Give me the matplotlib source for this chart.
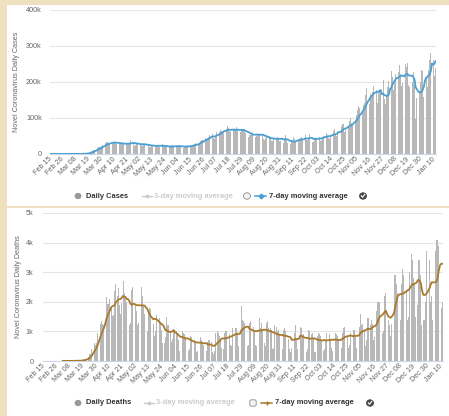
import numpy as np
import pandas as pd
import matplotlib
matplotlib.use("Agg")
import matplotlib.pyplot as plt
from matplotlib.patches import Rectangle, Circle, FancyBboxPatch
from matplotlib.lines import Line2D

plt.rcParams['font.family'] = ['Liberation Sans', 'DejaVu Sans']

# ---------------- data (USA, Feb 15 2020 - Jan 11 2021) ----------------
start_date = '2020-02-15'
end_date = '2021-01-11'

# daily new cases, thousands
cases_feb = [0] * 15
cases_mar = [0.02, 0.02, 0.03, 0.03, 0.07, 0.08, 0.1, 0.12, 0.2, 0.3, 0.4, 0.5, 0.6, 0.7, 0.9, 1.3,
             1.8, 2.8, 4.6, 5.6, 7.0, 8.9, 11.2, 11.1, 13.9, 17.8, 19.0, 19.8, 19.4, 21.0, 25.3]
cases_apr = [26.6, 30.1, 32.0, 34.0, 25.5, 29.3, 32.5, 33.0, 34.4, 34.0, 29.9, 28.0, 25.6, 27.0, 30.3,
             31.5, 32.0, 28.2, 26.3, 26.6, 26.8, 28.9, 31.8, 38.7, 33.9, 26.5, 23.5, 24.3, 27.3, 30.0]
cases_may = [33.0, 29.0, 25.5, 22.3, 23.9, 25.1, 29.0, 28.0, 25.6, 20.0, 18.6, 21.5, 21.3, 27.2, 25.1,
             24.9, 18.9, 22.3, 20.3, 21.6, 27.0, 23.3, 23.2, 20.1, 18.6, 17.1, 19.2, 22.4, 24.8, 24.0, 21.0]
cases_jun = [20.1, 21.9, 20.4, 21.5, 24.8, 23.3, 17.9, 17.3, 18.6, 20.9, 22.9, 25.3, 25.8, 19.8, 19.6,
             23.6, 26.3, 28.4, 31.6, 32.0, 26.1, 31.6, 36.0, 38.4, 39.1, 45.3, 43.6, 41.6, 41.4, 47.5]
cases_jul = [52.0, 56.6, 54.6, 45.8, 42.5, 46.5, 62.3, 62.9, 61.7, 67.8, 64.7, 59.7, 61.5, 66.6, 68.6,
             77.3, 72.0, 63.8, 62.0, 62.5, 67.0, 70.3, 70.4, 74.9, 68.1, 56.1, 59.8, 67.9, 68.9, 69.1, 68.5]
cases_aug = [58.4, 47.5, 47.5, 54.1, 54.1, 58.1, 60.1, 54.2, 47.4, 49.0, 54.5, 54.9, 52.0, 64.6, 53.1,
             42.4, 39.1, 44.7, 47.4, 45.3, 48.7, 45.1, 35.9, 37.2, 40.4, 44.6, 45.3, 48.0, 43.7, 35.4, 37.3]
cases_sep = [43.6, 31.1, 44.7, 52.3, 42.5, 31.2, 24.5, 27.4, 35.2, 35.6, 47.3, 40.4, 35.5, 36.6, 38.6,
             39.9, 44.3, 47.3, 42.8, 35.7, 52.9, 39.6, 39.5, 45.7, 55.4, 46.0, 34.5, 32.0, 42.9, 40.7]
cases_oct = [44.8, 54.2, 47.7, 37.1, 40.2, 43.6, 50.6, 56.2, 58.1, 51.6, 45.6, 41.3, 50.1, 59.5, 64.7,
             69.1, 55.5, 48.7, 64.7, 60.3, 62.8, 77.6, 83.7, 83.8, 60.1, 67.0, 75.9, 79.0, 91.5, 99.3, 86.3]
cases_nov = [81.2, 94.0, 92.6, 107.9, 121.9, 132.5, 126.7, 105.9, 120.3, 136.3, 142.8, 163.2, 184.5,
             166.2, 138.9, 165.3, 161.6, 172.8, 187.8, 198.5, 177.6, 142.7, 174.5, 175.9, 181.5, 112.9,
             205.0, 152.0, 138.9, 161.0]
cases_dec = [186.0, 202.6, 217.7, 231.2, 214.0, 177.0, 196.6, 221.4, 220.6, 227.3, 247.4, 221.0, 189.0,
             198.0, 204.0, 250.0, 241.0, 253.0, 193.0, 187.0, 197.0, 200.0, 228.0, 193.0, 98.0, 155.0,
             151.0, 175.0, 201.0, 232.0, 231.0]
cases_jan = [158.0, 277.0, 211.0, 186.0, 232.0, 261.0, 280.0, 310.0, 262.0, 217.0, 240.0]

# daily new deaths, thousands (reporting begins Mar 2)
deaths_start = '2020-03-02'
deaths_mar = [0.005, 0.003, 0.002, 0.001, 0.004, 0.003, 0.003, 0.004, 0.005, 0.008, 0.007, 0.01, 0.01,
              0.01, 0.02, 0.025, 0.03, 0.05, 0.06, 0.07, 0.11, 0.14, 0.23, 0.25, 0.4, 0.5, 0.6, 0.55,
              0.6, 0.95]
deaths_apr = [1.14, 1.24, 1.36, 1.25, 1.21, 1.45, 2.17, 1.94, 1.91, 2.08, 1.85, 1.53, 1.57, 2.35, 2.60,
              2.20, 2.45, 1.90, 1.60, 1.95, 2.70, 2.30, 2.20, 2.00, 1.90, 1.20, 1.30, 2.40, 2.50, 2.20]
deaths_may = [1.90, 1.70, 1.20, 1.30, 2.35, 2.50, 2.20, 1.90, 1.60, 0.80, 1.00, 1.70, 1.80, 1.75, 1.60,
              1.25, 0.85, 1.00, 1.55, 1.55, 1.45, 1.30, 1.05, 0.60, 0.60, 0.80, 1.50, 1.20, 1.20, 0.95, 0.65]
deaths_jun = [0.75, 1.05, 1.05, 1.00, 0.95, 0.70, 0.35, 0.60, 1.00, 0.95, 0.90, 0.80, 0.75, 0.35, 0.40,
              0.85, 0.80, 0.75, 0.70, 0.60, 0.30, 0.35, 0.85, 0.80, 0.70, 0.65, 0.55, 0.30, 0.35, 0.65]
deaths_jul = [0.70, 0.70, 0.65, 0.30, 0.25, 0.35, 0.95, 1.00, 0.95, 0.85, 0.75, 0.45, 0.40, 0.95, 1.00,
              1.00, 0.95, 0.90, 0.55, 0.50, 1.10, 1.15, 1.10, 1.10, 0.95, 0.50, 0.55, 1.85, 1.40, 1.35, 1.30]
deaths_aug = [1.15, 0.50, 0.55, 1.30, 1.35, 1.20, 1.15, 1.00, 0.55, 0.50, 1.40, 1.45, 1.10, 1.30, 1.05,
              0.60, 0.50, 1.30, 1.35, 1.10, 1.10, 1.05, 0.40, 0.45, 1.20, 1.15, 1.00, 1.05, 0.90, 0.45, 0.40]
deaths_sep = [1.05, 1.10, 1.00, 1.00, 0.75, 0.40, 0.30, 0.45, 1.15, 0.95, 1.20, 0.75, 0.40, 0.40, 1.15,
              1.10, 0.85, 0.90, 0.75, 0.30, 0.40, 1.05, 1.00, 0.90, 0.95, 0.75, 0.30, 0.30, 0.85, 0.95]
deaths_oct = [0.90, 0.85, 0.70, 0.35, 0.40, 0.70, 0.95, 0.95, 0.90, 0.70, 0.45, 0.35, 0.75, 0.95, 0.90,
              0.85, 0.75, 0.40, 0.45, 0.95, 1.10, 1.15, 0.95, 0.85, 0.45, 0.55, 0.95, 1.05, 1.05, 1.05, 0.85]
deaths_nov = [0.45, 0.55, 1.15, 1.60, 1.20, 1.25, 1.00, 0.50, 0.70, 1.45, 1.45, 1.20, 1.40, 1.25, 0.70,
              0.80, 1.70, 2.00, 2.00, 2.00, 1.45, 0.95, 1.00, 2.20, 2.30, 1.30, 1.40, 1.20, 0.85, 1.25]
deaths_dec = [2.60, 2.90, 2.90, 2.60, 2.30, 1.10, 1.40, 2.60, 3.10, 2.90, 2.90, 2.40, 1.40, 1.50, 3.00,
              3.60, 3.40, 2.80, 2.60, 1.50, 1.90, 3.40, 3.40, 2.90, 1.20, 1.40, 1.40, 2.00, 3.70, 3.90, 3.40]
deaths_jan = [2.00, 2.20, 1.40, 2.00, 3.70, 4.10, 4.10, 3.90, 3.40, 1.80, 2.00]

cases_ticks = [0, 100, 200, 300, 400]
cases_tick_labels = ['0', '100k', '200k', '300k', '400k']
deaths_ticks = [0, 1, 2, 3, 4, 5]
deaths_tick_labels = ['0', '1k', '2k', '3k', '4k', '5k']

# ---------------- assemble series ----------------
dates = pd.date_range(start_date, end_date, freq='D')
cases = pd.Series(cases_feb + cases_mar + cases_apr + cases_may + cases_jun + cases_jul + cases_aug
                  + cases_sep + cases_oct + cases_nov + cases_dec + cases_jan, index=dates)
deaths = pd.Series(deaths_mar + deaths_apr + deaths_may + deaths_jun + deaths_jul + deaths_aug
                   + deaths_sep + deaths_oct + deaths_nov + deaths_dec + deaths_jan,
                   index=pd.date_range(deaths_start, end_date, freq='D')).reindex(dates)
cases_ma = cases.rolling(7, min_periods=1).mean()
deaths_ma = deaths.rolling(7, min_periods=1).mean()

x = np.arange(len(dates))
tick_pos = x[::11]
tick_labels = [d.strftime('%b %d') for d in dates[::11]]

# ---------------- figure ----------------
W, H = 449, 416
fig = plt.figure(figsize=(W / 100, H / 100), dpi=100)
fig.patch.set_facecolor('#efe1c0')


def fx(px):
    return px / W


def fy(py):
    return 1 - py / H


def card(x0, y0, x1, y1):
    fig.add_artist(Rectangle((fx(x0), fy(y1)), fx(x1) - fx(x0), fy(y0) - fy(y1),
                             transform=fig.transFigure, facecolor='white',
                             edgecolor='none', zorder=-5))


card(7, 5, 449, 206)
card(7, 208, 449, 416)

TXT = '#666666'
FS = 5.2


def style_axis(ax, yticks, ylabels, ylim, ypad):
    ax.set_facecolor('white')
    ax.set_xlim(-0.5, len(dates) - 0.5)
    ax.set_ylim(*ylim)
    for s in ['top', 'right', 'left']:
        ax.spines[s].set_visible(False)
    ax.spines['bottom'].set_color('#ccd6eb')
    ax.spines['bottom'].set_linewidth(0.8)
    ax.set_yticks(yticks)
    ax.set_yticklabels(ylabels, color=TXT, fontsize=FS)
    ax.yaxis.grid(True, color='#e6e6e6', linewidth=0.8)
    ax.set_axisbelow(True)
    ax.tick_params(axis='y', length=0, pad=ypad)
    ax.set_xticks(tick_pos)
    ax.set_xticklabels(tick_labels, color=TXT, fontsize=FS)
    ax.tick_params(axis='x', length=0, pad=3)
    for lab in ax.get_xticklabels():
        lab.set_rotation(45)
        lab.set_ha('right')
        lab.set_va('center')
        lab.set_rotation_mode('anchor')


# top panel: cases
ax1 = fig.add_axes([fx(50), fy(154), fx(436) - fx(50), fy(10) - fy(154)])
style_axis(ax1, cases_ticks, cases_tick_labels, (0, 400), 6)
ax1.bar(x, cases.values, width=0.72, color='#b8b8b8', linewidth=0, zorder=2)
ax1.plot(x, cases_ma.values, color='#4a9fd4', linewidth=1.3, zorder=3)
fig.text(fx(17), fy(82), 'Novel Coronavirus Daily Cases', rotation=90, color=TXT,
         fontsize=FS, ha='center', va='center')

# bottom panel: deaths
ax2 = fig.add_axes([fx(43), fy(361), fx(443) - fx(43), fy(213) - fy(361)])
style_axis(ax2, deaths_ticks, deaths_tick_labels, (0, 5), 7)
ax2.bar(x, deaths.fillna(0).values, width=0.72, color='#b8b8b8', linewidth=0, zorder=2)
ax2.plot(x, deaths_ma.values, color='#a97a2d', linewidth=1.3, zorder=3)
fig.text(fx(19), fy(287), 'Novel Coronavirus Daily Deaths', rotation=90, color=TXT,
         fontsize=FS, ha='center', va='center')


# ---------------- legends ----------------
def legend(y, name, x_dot, x_name, x_3d, x_box, x_7d, x_check, ma_color, ma_marker, ms, box_round):
    LFS = 5.4
    fig.add_artist(Circle((fx(x_dot), fy(y)), radius=3.4 / W, transform=fig.transFigure,
                          facecolor='#999999', edgecolor='none'))
    fig.text(fx(x_name), fy(y), name, fontsize=LFS, fontweight='bold', color='#333333',
             ha='left', va='center')
    fig.add_artist(Line2D([fx(x_3d), fx(x_3d + 10)], [fy(y), fy(y)], transform=fig.transFigure,
                          color='#cccccc', linewidth=1.0))
    fig.add_artist(Line2D([fx(x_3d + 5)], [fy(y)], transform=fig.transFigure, marker='o',
                          markersize=2.8, color='#cccccc', markeredgewidth=0))
    fig.text(fx(x_3d + 12), fy(y), '3-day moving average', fontsize=LFS, fontweight='bold',
             color='#cccccc', ha='left', va='center')
    if box_round:
        fig.add_artist(Circle((fx(x_box), fy(y)), radius=3.5 / W, transform=fig.transFigure,
                              facecolor='#f3f3f3', edgecolor='#8c8c8c', linewidth=0.6))
    else:
        fig.add_artist(FancyBboxPatch((fx(x_box - 3.2), fy(y + 3.2)), 6.4 / W, 6.4 / H,
                                      boxstyle='round,pad=0,rounding_size=0.004',
                                      transform=fig.transFigure, facecolor='#f3f3f3',
                                      edgecolor='#8c8c8c', linewidth=0.6))
    fig.add_artist(Line2D([fx(x_7d), fx(x_7d + 11)], [fy(y), fy(y)], transform=fig.transFigure,
                          color=ma_color, linewidth=1.1))
    fig.add_artist(Line2D([fx(x_7d + 5.5)], [fy(y)], transform=fig.transFigure, marker=ma_marker,
                          markersize=ms, color=ma_color, markeredgewidth=1.0))
    fig.text(fx(x_7d + 14), fy(y), '7-day moving average', fontsize=LFS, fontweight='bold',
             color='#333333', ha='left', va='center')
    fig.add_artist(Circle((fx(x_check), fy(y)), radius=3.5 / W, transform=fig.transFigure,
                          facecolor='#4a4a4a', edgecolor='#333333', linewidth=0.5))
    fig.add_artist(Line2D([fx(x_check - 1.7), fx(x_check - 0.4), fx(x_check + 1.8)],
                          [fy(y - 0.2), fy(y + 1.3), fy(y - 1.7)], transform=fig.transFigure,
                          color='white', linewidth=0.8))


legend(196, 'Daily Cases', 78, 86, 142, 247, 255, 363, '#4a9fd4', 'D', 2.4, True)
legend(403, 'Daily Deaths', 78, 86, 144, 253, 261, 370, '#a97a2d', '+', 3.4, False)

fig.savefig('out.png', dpi=100, facecolor=fig.get_facecolor())
